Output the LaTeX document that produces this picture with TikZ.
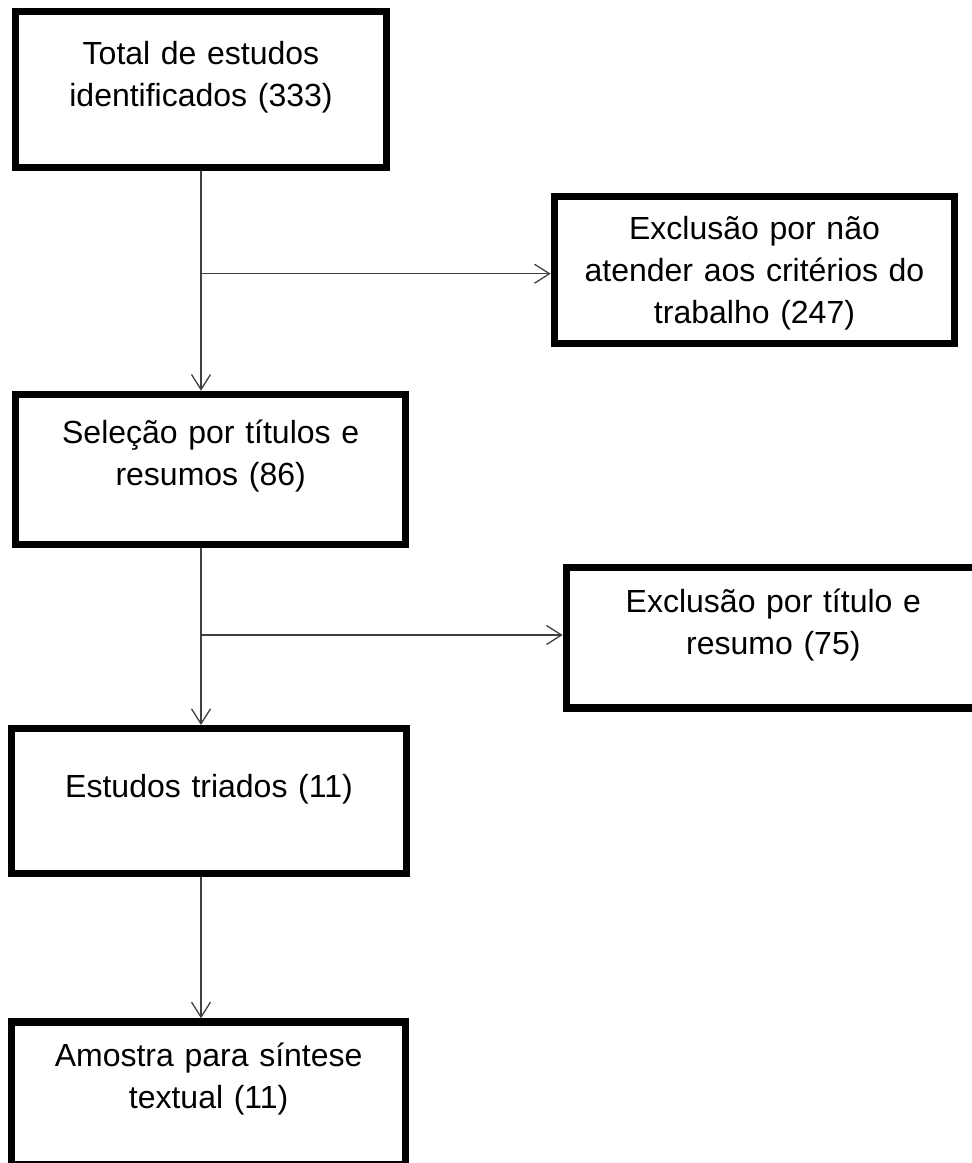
\documentclass[tikz,border=0pt]{standalone}
\usepackage{fontspec}
\setmainfont{Liberation Sans}
\usetikzlibrary{arrows.meta}
\definecolor{linegray}{RGB}{64,64,64}
\tikzset{
  boxnode/.style={draw=black, line width=7.3pt, rectangle, inner sep=0pt, fill=white},
  txt/.style={anchor=base, align=center, text width=#1, inner sep=0pt,
              font=\fontsize{32}{42}\selectfont},
  conn/.style={draw=linegray, line width=1.3pt},
  arr/.style={conn, -{Straight Barb[length=15pt,width=19pt,line width=1.3pt]}}
}
\begin{document}
\begin{tikzpicture}[x=1pt,y=-1pt]
\useasboundingbox (0,0) rectangle (972,1163);
% boxes
\node[boxnode, minimum width=370.7pt, minimum height=155.7pt] (b1) at (201,89.5) {};
\node[boxnode, minimum width=400.3pt, minimum height=147.3pt] (b2) at (754.5,270) {};
\node[boxnode, minimum width=390pt, minimum height=150pt] (b3) at (210.65,469.35) {};
\node[boxnode, minimum width=414pt, minimum height=140.4pt] (b4) at (773.35,637.85) {};
\node[boxnode, minimum width=394.7pt, minimum height=145pt] (b5) at (209,801.15) {};
\node[boxnode, minimum width=394pt, minimum height=142.7pt] (b6) at (208.65,1093.3) {};
% texts
\node[txt=360pt] (t1) at (201,64) {Total de estudos\\identificados (333)};
\node[txt=390pt] (t2) at (754.5,239.3) {Exclusão por não\\atender aos critérios do\\trabalho (247)};
\node[txt=380pt] (t3) at (210.65,443.3) {Seleção por títulos e\\resumos (86)};
\node[txt=400pt] (t4) at (773.35,612) {Exclusão por título e\\resumo (75)};
\node[txt=380pt] (t5) at (209,797.7) {Estudos triados (11)};
\node[txt=380pt] (t6) at (208.65,1066) {Amostra para síntese\\textual (11)};
% connectors
\coordinate (j1) at (201,273.7);
\coordinate (j2) at (201,635);
\draw[arr] (b1.south) -- (b3.north -| b1.south);
\draw[arr] (j1) -- (j1 -| b2.west);
\draw[arr] (b3.south -| b1.south) -- (b5.north -| b1.south);
\draw[arr] (j2) -- (j2 -| b4.west);
\draw[arr] (b5.south -| b1.south) -- (b6.north -| b1.south);
\end{tikzpicture}
\end{document}
